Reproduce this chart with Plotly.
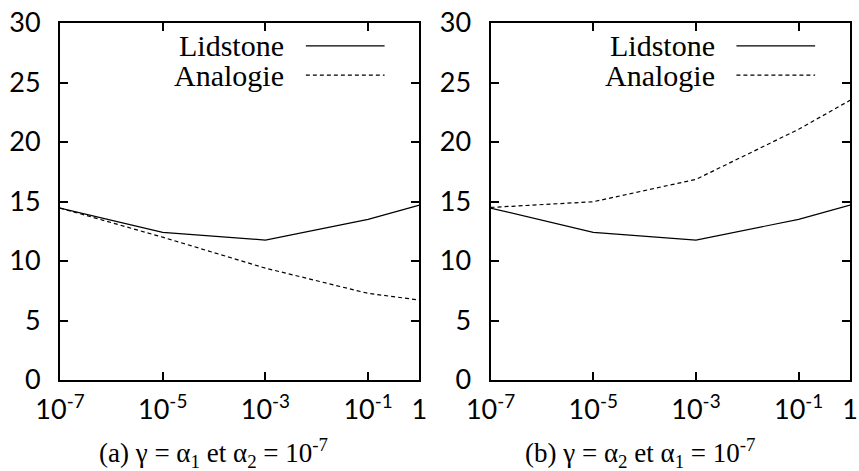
import plotly.graph_objects as go
from plotly.subplots import make_subplots

# Werte
gamma = [1e-7, 1e-5, 1e-3, 1e-1, 1]
lidstone = [14.45, 12.4, 11.76, 13.5, 14.7]
analogie_a = [14.45, 12.0, 9.4, 7.28, 6.72]
analogie_b = [14.5, 14.98, 16.86, 21.07, 23.5]

x_tickvals = [1e-7, 1e-5, 1e-3, 1e-1, 1]
x_ticktext = ['10<sup>-7</sup>', '10<sup>-5</sup>', '10<sup>-3</sup>', '10<sup>-1</sup>', '1']
y_tickvals = [0, 5, 10, 15, 20, 25, 30]

captions = [
    '(a) γ\u2005=\u2005α<sub>1</sub> et α<sub>2</sub>\u2005=\u200510<sup>-7</sup>',
    '(b) γ\u2005=\u2005α<sub>2</sub> et α<sub>1</sub>\u2005=\u200510<sup>-7</sup>',
]
legend_names = ['Lidstone', 'Analogie']

SERIF = 'Liberation Serif'
SANS = 'Lato'
DASH = '4px,3px'

fig = make_subplots(rows=1, cols=2)

panels = [(1, analogie_a), (2, analogie_b)]
for col, analog in panels:
    fig.add_trace(go.Scatter(
        x=gamma, y=lidstone, mode='lines', name=legend_names[0],
        line=dict(color='black', width=1.2), showlegend=False,
    ), row=1, col=col)
    fig.add_trace(go.Scatter(
        x=gamma, y=analog, mode='lines', name=legend_names[1],
        line=dict(color='black', width=1.2, dash=DASH), showlegend=False,
    ), row=1, col=col)

    xref = 'x domain' if col == 1 else 'x2 domain'
    yref = 'y domain' if col == 1 else 'y2 domain'
    # Legende von Hand: Text rechtsbündig, Linienmuster rechts davon
    for i, (name, dash) in enumerate(zip(legend_names, ['solid', DASH])):
        yy = 0.936 - i * 0.082
        fig.add_annotation(
            x=0.63, y=yy, xref=xref, yref=yref, text=name, showarrow=False,
            xanchor='right', yanchor='middle',
            font=dict(family=SERIF, size=30, color='black'),
        )
        fig.add_shape(
            type='line', x0=0.684, x1=0.903, y0=yy, y1=yy,
            xref=xref, yref=yref, line=dict(color='black', width=1.2, dash=dash),
        )

fig.update_xaxes(
    type='log', range=[-7, 0],
    tickvals=x_tickvals, ticktext=x_ticktext,
    ticks='inside', ticklen=8, tickwidth=1.5, tickcolor='black',
    showline=True, linecolor='black', linewidth=2, mirror='ticks',
    showgrid=False, zeroline=False, ticklabelstandoff=5, automargin=False,
    tickfont=dict(family=SANS, size=27, color='black'),
)
fig.update_yaxes(
    range=[0, 30], tickvals=y_tickvals,
    ticks='inside', ticklen=8, tickwidth=1.5, tickcolor='black',
    showline=True, linecolor='black', linewidth=2, mirror='ticks',
    showgrid=False, zeroline=False, ticklabelstandoff=12, automargin=False,
    tickfont=dict(family=SANS, size=27, color='black'),
)
fig.update_layout(
    xaxis=dict(domain=[0, 0.455]),
    xaxis2=dict(domain=[0.545, 1]),
    width=859, height=471,
    margin=dict(l=60, r=9, t=23, b=91),
    plot_bgcolor='white', paper_bgcolor='white',
    showlegend=False,
)

for cx, txt in zip([0.194, 0.735], captions):
    fig.add_annotation(
        x=cx, y=-0.205, xref='paper', yref='paper', text=txt, showarrow=False,
        xanchor='center', yanchor='middle',
        font=dict(family=SERIF, size=27, color='black'),
    )

# Seitenrand des Browsers entfernen, damit die Grafik bei (0,0) liegt
fig.write_html('out.html', config={'displayModeBar': False},
               post_script="document.body.style.margin='0';")
